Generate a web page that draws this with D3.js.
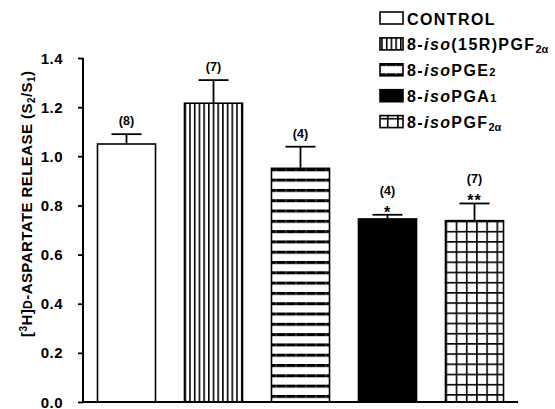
<!DOCTYPE html>
<html lang="en">
<head>
  <meta charset="utf-8">
  <title>Aspartate release</title>
  <script src="https://d3js.org/d3.v7.min.js"></script>
  <style>
    body { margin: 0; background: #fff; }
    text { font-family: "Liberation Sans", Arial, sans-serif; font-weight: bold; fill: #000; }
  </style>
</head>
<body>
  <div id="stage"></div>
  <script>
    // values
    var categories = ["CONTROL", "8-iso(15R)PGF2a", "8-isoPGE2", "8-isoPGA1", "8-isoPGF2a"];
    var means = [1.05, 1.216, 0.951, 0.745, 0.738];
    var sems = [0.04, 0.094, 0.088, 0.017, 0.07];
    var nLabels = ["(8)", "(7)", "(4)", "(4)", "(7)"];
    var stars = ["", "", "", "*", "**"];
    var yTicks = [0, 0.2, 0.4, 0.6, 0.8, 1.0, 1.2, 1.4];
    // legend text pieces: [text, kind]  kind: n = normal, i = italic, s = small, sub = lowered small
    var legendParts = [
      [["CONTROL", "n"]],
      [["8-", "n"], ["iso", "i"], ["(15R)PGF", "n"], ["2\u03b1", "sub"]],
      [["8-", "n"], ["iso", "i"], ["PGE", "n"], ["2", "s"]],
      [["8-", "n"], ["iso", "i"], ["PGA", "n"], ["1", "s"]],
      [["8-", "n"], ["iso", "i"], ["PGF", "n"], ["2\u03b1", "sub"]]
    ];

    var W = 555, H = 409;
    var svg = d3.select("#stage").append("svg").attr("width", W).attr("height", H);

    var x = d3.scaleBand().domain(categories).range([83, 518]).paddingInner(0.333).paddingOuter(0.1665);
    var y = d3.scaleLinear().domain([0, 1.4]).range([402, 58]);

    // patterns for the bars
    var fills = ["#fff", "url(#vstripe)", "url(#hstripe)", "#000", "url(#grid)"];
    var defs = svg.append("defs");

    var vs = defs.append("pattern").attr("id", "vstripe").attr("patternUnits", "userSpaceOnUse")
      .attr("width", 4.7).attr("height", 10).attr("x", x(categories[1]));
    vs.append("rect").attr("width", 4.7).attr("height", 10).attr("fill", "#fff");
    vs.append("rect").attr("width", 1.6).attr("height", 10).attr("fill", "#000");

    var hs = defs.append("pattern").attr("id", "hstripe").attr("patternUnits", "userSpaceOnUse")
      .attr("width", 10).attr("height", 10.3).attr("x", x(categories[2])).attr("y", y(means[2]));
    hs.append("rect").attr("width", 10).attr("height", 10.3).attr("fill", "#fff");
    hs.append("rect").attr("width", 10).attr("height", 3).attr("fill", "#000");
    hs.append("rect").attr("x", 4).attr("width", 0.6).attr("height", 3).attr("fill", "#888");

    var gr = defs.append("pattern").attr("id", "grid").attr("patternUnits", "userSpaceOnUse")
      .attr("width", 10.2).attr("height", 10.2).attr("x", x(categories[4])).attr("y", y(means[4]));
    gr.append("rect").attr("width", 10.2).attr("height", 10.2).attr("fill", "#fff");
    gr.append("rect").attr("width", 1.6).attr("height", 10.2).attr("fill", "#000");
    gr.append("rect").attr("width", 10.2).attr("height", 1.6).attr("fill", "#000");

    // bars
    svg.selectAll("rect.bar").data(categories).enter().append("rect")
      .attr("class", "bar")
      .attr("x", function (d) { return x(d); })
      .attr("y", function (d, i) { return y(means[i]); })
      .attr("width", x.bandwidth())
      .attr("height", function (d, i) { return y(0) - y(means[i]); })
      .attr("fill", function (d, i) { return fills[i]; })
      .attr("stroke", "#000").attr("stroke-width", 1.6);

    // error bars (upper only)
    var capW = 30;
    var eb = svg.selectAll("g.err").data(categories).enter().append("g").attr("class", "err")
      .attr("stroke", "#000").attr("stroke-width", 1.8);
    eb.append("line")
      .attr("x1", function (d) { return x(d) + x.bandwidth() / 2; })
      .attr("x2", function (d) { return x(d) + x.bandwidth() / 2; })
      .attr("y1", function (d, i) { return y(means[i]); })
      .attr("y2", function (d, i) { return y(means[i] + sems[i]); });
    eb.append("line")
      .attr("x1", function (d) { return x(d) + x.bandwidth() / 2 - capW / 2; })
      .attr("x2", function (d) { return x(d) + x.bandwidth() / 2 + capW / 2; })
      .attr("y1", function (d, i) { return y(means[i] + sems[i]); })
      .attr("y2", function (d, i) { return y(means[i] + sems[i]); });

    // n labels and significance stars
    svg.selectAll("text.n").data(categories).enter().append("text")
      .attr("class", "n")
      .attr("x", function (d) { return x(d) + x.bandwidth() / 2; })
      .attr("y", function (d, i) { return y(means[i] + sems[i]) - (stars[i] ? 20 : 9); })
      .attr("text-anchor", "middle").attr("font-size", 12.5)
      .text(function (d, i) { return nLabels[i]; });
    svg.selectAll("text.star").data(categories).enter().append("text")
      .attr("class", "star")
      .attr("x", function (d) { return x(d) + x.bandwidth() / 2; })
      .attr("y", function (d, i) { return y(means[i] + sems[i]) + 3; })
      .attr("text-anchor", "middle").attr("font-size", 16).attr("letter-spacing", 1)
      .text(function (d, i) { return stars[i]; });

    // axes
    var yAxis = d3.axisLeft(y).tickValues(yTicks).tickSize(5).tickPadding(15)
      .tickFormat(d3.format(".1f"));
    var gy = svg.append("g").attr("transform", "translate(83,0)").call(yAxis);
    gy.select(".domain").attr("stroke-width", 2).attr("d", "M0,58V403");
    gy.selectAll(".tick line").attr("stroke-width", 1.8);
    gy.selectAll(".tick text").attr("font-size", 15).attr("font-family", null)
      .attr("letter-spacing", 0.5).attr("dy", "0.34em");

    var gx = svg.append("g").attr("transform", "translate(0,402)")
      .call(d3.axisBottom(x).tickSize(0).tickFormat(""));
    gx.select(".domain").attr("stroke-width", 2).attr("d", "M82,0H518");

    // y axis title
    var yt = svg.append("text").attr("transform", "translate(32,204) rotate(-90)")
      .attr("text-anchor", "middle").attr("font-size", 15)
      .attr("textLength", 266).attr("lengthAdjust", "spacing");
    yt.append("tspan").text("[");
    yt.append("tspan").attr("font-size", 10).attr("dy", -5).text("3");
    yt.append("tspan").attr("dy", 5).text("H]");
    yt.append("tspan").attr("font-size", 12).text("D");
    yt.append("tspan").text("-ASPARTATE RELEASE (S");
    yt.append("tspan").attr("font-size", 10).attr("dy", 3).text("2");
    yt.append("tspan").attr("dy", -3).text("/S");
    yt.append("tspan").attr("font-size", 10).attr("dy", 3).text("1");
    yt.append("tspan").attr("dy", -3).text(")");

    // legend
    var lg = svg.selectAll("g.leg").data(categories).enter().append("g").attr("class", "leg")
      .attr("transform", function (d, i) { return "translate(380," + (18 + i * 25.9) + ")"; });
    lg.append("rect").attr("x", 0).attr("y", -6).attr("width", 23).attr("height", 12)
      .attr("fill", function (d, i) { return fills[i]; })
      .attr("stroke", "#000").attr("stroke-width", 1.6);
    lg.each(function (d, i) {
      var t = d3.select(this).append("text").attr("x", 27).attr("y", 6.5)
        .attr("font-size", 16).attr("letter-spacing", 1.4);
      legendParts[i].forEach(function (p) {
        var s = t.append("tspan").text(p[0]);
        if (p[1] === "i") s.attr("font-style", "italic");
        if (p[1] === "s") s.attr("font-size", 11).attr("letter-spacing", 0);
        if (p[1] === "sub") s.attr("font-size", 11).attr("letter-spacing", 0).attr("dy", 3);
      });
    });
  </script>
</body>
</html>
